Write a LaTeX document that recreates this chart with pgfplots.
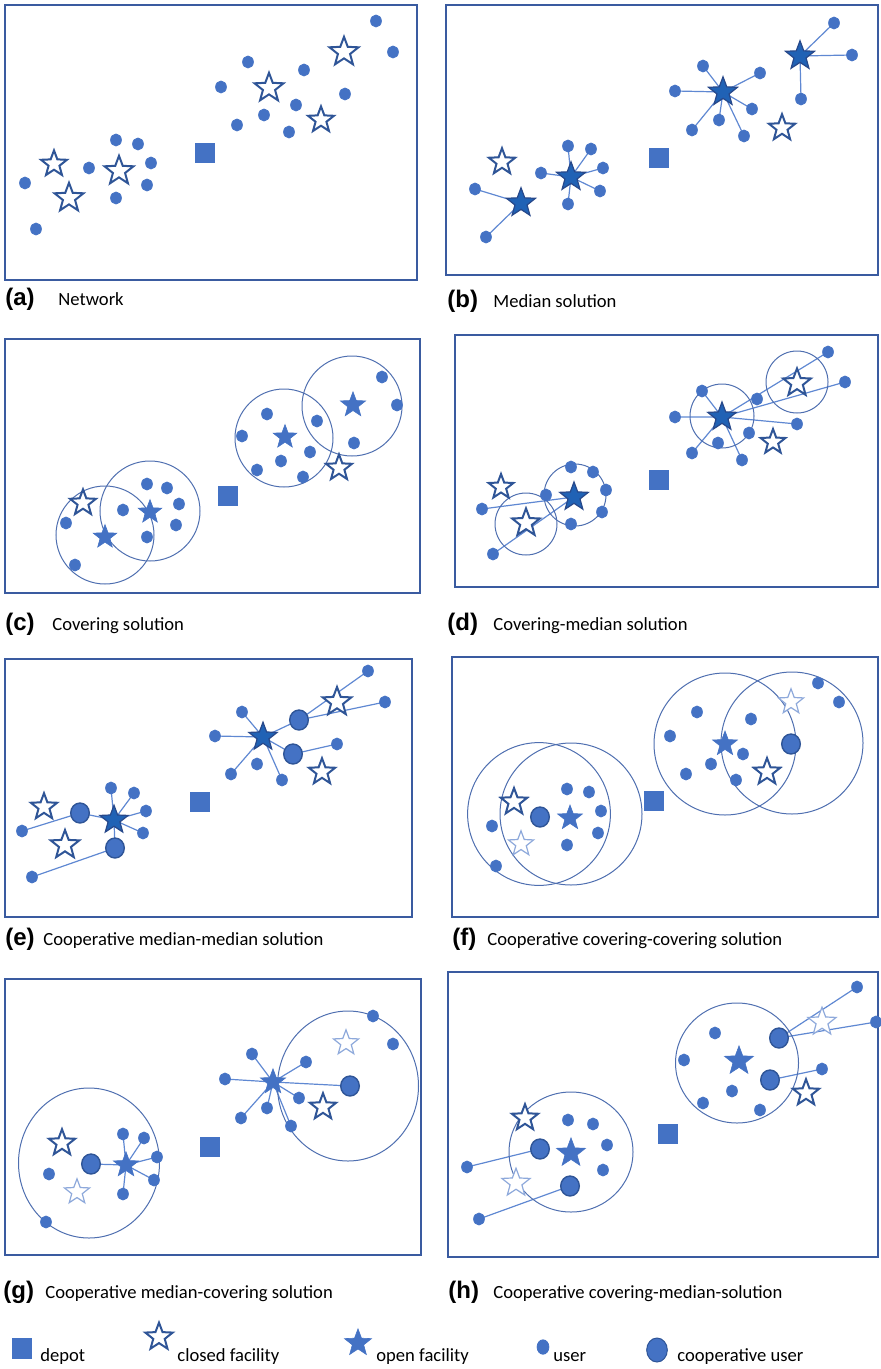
\documentclass[border=0pt]{standalone}
\usepackage{pgfplots}
\pgfplotsset{compat=1.18}
\usepackage{fontspec}
\setmainfont{Carlito}
\newfontfamily\labfont{Liberation Sans}
\definecolor{ublue}{HTML}{4472C4}
\definecolor{frameblue}{HTML}{3A5BA0}
\definecolor{dkstar}{HTML}{2F5597}
\definecolor{opendk}{HTML}{2062B5}
\definecolor{openline}{HTML}{27488A}
\definecolor{lightstar}{HTML}{8EA9DB}
\definecolor{edgeblue}{HTML}{5F88D2}
\definecolor{circblue}{HTML}{4F6FB0}

\pgfdeclareplotmark{fstar}{%
 \pgfpathmoveto{\pgfpointpolar{90}{\pgfplotmarksize}}%
 \pgfpathlineto{\pgfpointpolar{126}{0.42\pgfplotmarksize}}%
 \pgfpathlineto{\pgfpointpolar{162}{\pgfplotmarksize}}%
 \pgfpathlineto{\pgfpointpolar{198}{0.42\pgfplotmarksize}}%
 \pgfpathlineto{\pgfpointpolar{234}{\pgfplotmarksize}}%
 \pgfpathlineto{\pgfpointpolar{270}{0.42\pgfplotmarksize}}%
 \pgfpathlineto{\pgfpointpolar{306}{\pgfplotmarksize}}%
 \pgfpathlineto{\pgfpointpolar{342}{0.42\pgfplotmarksize}}%
 \pgfpathlineto{\pgfpointpolar{18}{\pgfplotmarksize}}%
 \pgfpathlineto{\pgfpointpolar{54}{0.42\pgfplotmarksize}}%
 \pgfpathclose
 \pgfusepathqfillstroke
}

\pgfplotsset{
 panel/.style={scale only axis, xtick=\empty, ytick=\empty, y dir=reverse, clip=false,
   axis line style={frameblue, line width=0.9pt}, anchor=north west},
 user/.style={only marks, mark=*, mark size=3pt, mark options={xscale=0.9, draw=ublue, fill=ublue}},
 coop/.style={only marks, mark=*, mark size=5pt, mark options={xscale=0.93, fill=ublue, draw=dkstar, line width=0.7pt}},
 closed/.style={only marks, mark=fstar, mark size=#1, mark options={fill=white, draw=dkstar, line width=1pt}},
 lightclosed/.style={only marks, mark=fstar, mark size=#1, mark options={fill=white, draw=lightstar, line width=0.6pt}},
 opendark/.style={only marks, mark=fstar, mark size=#1, mark options={fill=opendk, draw=openline, line width=0.6pt}},
 openb/.style={only marks, mark=fstar, mark size=#1, mark options={fill=ublue, draw=ublue, line width=0.3pt}},
 depot/.style={only marks, mark=square*, mark size=4.75pt, mark options={fill=ublue, draw=ublue}},
 edge/.style={edgeblue, line width=0.6pt, mark=none, line join=round},
}
\tikzset{circ/.style={draw=circblue, line width=0.5pt}}
\newcommand{\lab}[1]{{\labfont\bfseries\fontsize{12pt}{14pt}\selectfont #1}}
\newcommand{\capt}[1]{{\fontsize{9.3pt}{11pt}\selectfont #1}}

\begin{document}
\begin{tikzpicture}
\useasboundingbox (0pt,0pt) rectangle (440pt,-684.5pt);

% ---------------- (a) Network
\begin{axis}[panel, at={(2.5pt,-2.5pt)}, width=206pt, height=137.5pt, xmin=5, xmax=417, ymin=5, ymax=280]
\addplot[user] coordinates {(376,21)(393,52)(248,62)(304,70)(221,87)(345,94)(296,105)(264,115)(237,125)(289,132)(116,140)(138,144)(151,163)(89,168)(147,185)(25,183)(116,198)(36,229)};
\addplot[closed=7.6pt] coordinates {(344,52)(269,88)(119,171)(69,198)};
\addplot[closed=6.8pt] coordinates {(321,120)(54,164)};
\addplot[depot] coordinates {(205,153)};
\end{axis}

% ---------------- (b) Median solution
\begin{axis}[panel, at={(223pt,-2.5pt)}, width=216pt, height=135pt, xmin=446, xmax=878, ymin=5, ymax=275]
\addplot[edge] coordinates {(800,56)(834,23)(800,56)(852,55)(800,56)(801,99)};
\addplot[edge] coordinates {(723,92)(703,66)(723,92)(760,73)(723,92)(675,91)(723,92)(752,109)(723,92)(719,120)(723,92)(692,130)(723,92)(744,136)};
\addplot[edge] coordinates {(571,177)(568,146)(571,177)(591,149)(571,177)(603,168)(571,177)(541,173)(571,177)(600,191)(571,177)(568,204)};
\addplot[edge] coordinates {(521,203)(475,189)(521,203)(486,237)};
\addplot[user] coordinates {(834,23)(852,55)(703,66)(760,73)(675,91)(801,99)(752,109)(719,120)(692,130)(744,136)(568,146)(591,149)(603,168)(541,173)(600,191)(475,189)(568,204)(486,237)};
\addplot[opendark=7.6pt] coordinates {(800,56)(723,92)(571,177)(521,203)};
\addplot[closed=6.9pt] coordinates {(782,128)(502,162)};
\addplot[depot] coordinates {(659,158)};
\end{axis}

% ---------------- (c) Covering solution
\begin{axis}[panel, at={(2.5pt,-169.5pt)}, width=207.5pt, height=127pt, xmin=5, xmax=420, ymin=339, ymax=593]
\draw[circ] (axis cs:105,535) circle[radius=24.5pt];
\draw[circ] (axis cs:150,511) circle[radius=25pt];
\draw[circ] (axis cs:284,438) circle[radius=24.5pt];
\draw[circ] (axis cs:352,406) circle[radius=25pt];
\addplot[user] coordinates {(382,377)(397,405)(267,414)(317,421)(242,436)(310,452)(281,461)(354,443)(257,470)(303,477)(147,484)(167,488)(179,504)(123,510)(176,525)(147,537)(66,523)(75,565)};
\addplot[openb=6.6pt] coordinates {(353,405)};
\addplot[openb=6.2pt] coordinates {(285,437)(150,512)(105,537)};
\addplot[closed=6.8pt] coordinates {(339,468)(83,503)};
\addplot[depot] coordinates {(228,496)};
\end{axis}

% ---------------- (d) Covering-median solution
\begin{axis}[panel, at={(227.5pt,-167.5pt)}, width=211.5pt, height=126pt, xmin=455, xmax=878, ymin=335, ymax=587]
\addplot[edge] coordinates {(722,417)(828,352)(722,417)(845,382)(722,417)(797,424)(722,417)(675,417)(722,417)(702,391)(722,417)(692,453)(722,417)(742,460)};
\addplot[edge] coordinates {(574,497)(482,509)(574,497)(493,554)};
\draw[circ] (axis cs:526,524) circle[radius=15.5pt];
\draw[circ] (axis cs:575,495) circle[radius=15.5pt];
\draw[circ] (axis cs:722,416) circle[radius=16pt];
\draw[circ] (axis cs:797,382) circle[radius=15.5pt];
\addplot[user] coordinates {(828,352)(845,382)(702,391)(757,399)(675,417)(797,424)(749,433)(718,443)(692,453)(742,460)(571,467)(593,472)(606,490)(546,495)(602,512)(571,524)(482,509)(493,554)};
\addplot[opendark=7.5pt] coordinates {(722,417)(574,497)};
\addplot[closed=7.3pt] coordinates {(797,383)(526,523)};
\addplot[closed=6.5pt] coordinates {(773,442)(501,487)};
\addplot[depot] coordinates {(659,480)};
\end{axis}

% ---------------- (e) Cooperative median-median solution
\begin{axis}[panel, at={(2.5pt,-329.5pt)}, width=203.5pt, height=129pt, xmin=5, xmax=412, ymin=659, ymax=917]
\addplot[edge] coordinates {(263,737)(242,712)(263,737)(215,736)(263,737)(231,774)(263,737)(282,780)(263,737)(299,720)(263,737)(293,754)};
\addplot[edge] coordinates {(368,671)(299,720)(385,702)};
\addplot[edge] coordinates {(293,754)(337,744)};
\addplot[edge] coordinates {(114,820)(111,788)(114,820)(134,793)(114,820)(146,811)(114,820)(143,833)(114,820)(80,813)(114,820)(115,848)};
\addplot[edge] coordinates {(80,813)(22,831)};
\addplot[edge] coordinates {(115,848)(32,877)};
\addplot[user] coordinates {(368,671)(385,702)(242,712)(215,736)(337,744)(257,764)(231,774)(282,780)(111,788)(134,793)(146,811)(143,833)(22,831)(32,877)};
\addplot[coop] coordinates {(299,720)(293,754)(80,813)(115,848)};
\addplot[opendark=7.4pt] coordinates {(263,737)(114,820)};
\addplot[closed=7.5pt] coordinates {(337,702)(65,845)};
\addplot[closed=6.9pt] coordinates {(322,772)(44,807)};
\addplot[depot] coordinates {(200,802)};
\end{axis}

% ---------------- (f) Cooperative covering-covering solution
\begin{axis}[panel, at={(226pt,-328.5pt)}, width=213pt, height=130pt, xmin=452, xmax=878, ymin=657, ymax=917]
\draw[circ] (axis cs:539,814) circle[radius=35.7pt];
\draw[circ] (axis cs:571,814) circle[radius=35.5pt];
\draw[circ] (axis cs:725,744) circle[radius=35.5pt];
\draw[circ] (axis cs:792,743) circle[radius=35.5pt];
\addplot[user] coordinates {(818,683)(839,702)(697,712)(751,719)(670,736)(743,754)(711,764)(686,774)(736,780)(567,789)(589,792)(601,811)(598,833)(492,826)(567,845)(496,866)};
\addplot[coop] coordinates {(791,744)(540,817)};
\addplot[openb=6.5pt] coordinates {(725,744)(570,818)};
\addplot[closed=7pt] coordinates {(767,772)(514,802)};
\addplot[lightclosed=6.6pt] coordinates {(791,702)(521,844)};
\addplot[depot] coordinates {(654,801)};
\end{axis}

% ---------------- (g) Cooperative median-covering solution
\begin{axis}[panel, at={(2.5pt,-489.5pt)}, width=208pt, height=138pt, xmin=5, xmax=421, ymin=979, ymax=1255]
\addplot[edge] coordinates {(273,1082)(252,1054)(273,1082)(306,1062)(273,1082)(225,1079)(273,1082)(241,1118)(273,1082)(267,1108)(273,1082)(291,1126)(273,1082)(299,1098)(273,1082)(350,1086)};
\addplot[edge] coordinates {(126,1165)(123,1134)(126,1165)(144,1138)(126,1165)(157,1157)(126,1165)(154,1180)(126,1165)(123,1194)(126,1165)(91,1164)};
\draw[circ] (axis cs:89,1163) ellipse[x radius=35.25pt, y radius=37.5pt];
\draw[circ] (axis cs:348,1086) ellipse[x radius=35.25pt, y radius=37.5pt];
\addplot[user] coordinates {(373,1016)(393,1044)(252,1054)(306,1062)(225,1079)(299,1098)(267,1108)(241,1118)(291,1126)(123,1134)(144,1138)(157,1157)(154,1180)(49,1174)(123,1194)(46,1222)};
\addplot[coop] coordinates {(350,1086)(91,1164)};
\addplot[openb=6.6pt] coordinates {(273,1082)(126,1165)};
\addplot[closed=6.9pt] coordinates {(323,1107)(62,1143)};
\addplot[lightclosed=6.6pt] coordinates {(346,1043)(77,1192)};
\addplot[depot] coordinates {(210,1147)};
\end{axis}

% ---------------- (h) Cooperative covering-median-solution
\begin{axis}[panel, at={(224pt,-486pt)}, width=215pt, height=142.5pt, xmin=448, xmax=878, ymin=972, ymax=1257]
\addplot[edge] coordinates {(857,987)(779,1038)(876,1022)};
\addplot[edge] coordinates {(770,1080)(822,1069)};
\addplot[edge] coordinates {(540,1149)(467,1167)};
\addplot[edge] coordinates {(570,1186)(479,1219)};
\draw[circ] (axis cs:571,1152) ellipse[x radius=31pt, y radius=30pt];
\draw[circ] (axis cs:737,1063) ellipse[x radius=30.75pt, y radius=30pt];
\addplot[user] coordinates {(857,987)(876,1022)(715,1033)(684,1060)(822,1069)(732,1091)(703,1103)(760,1110)(568,1120)(593,1124)(607,1145)(603,1170)(467,1167)(479,1219)};
\addplot[coop] coordinates {(779,1038)(770,1080)(540,1149)(570,1186)};
\addplot[openb=7.6pt] coordinates {(739,1061)(571,1153)};
\addplot[closed=6.9pt] coordinates {(806,1093)(525,1118)};
\addplot[lightclosed=7.4pt] coordinates {(822,1022)(516,1183)};
\addplot[depot] coordinates {(668,1134)};
\end{axis}

% ---------------- legend
\begin{axis}[at={(0pt,-660pt)}, anchor=north west, scale only axis, width=440pt, height=24.5pt,
  xmin=0, xmax=880, ymin=1320, ymax=1369, y dir=reverse, axis lines=none, clip=false]
\addplot[depot, mark size=4.6pt, mark options={yscale=1.05, fill=ublue, draw=ublue}] coordinates {(22,1348.5)};
\addplot[closed=7.2pt] coordinates {(159,1337)};
\addplot[openb=7.1pt] coordinates {(358,1343)};
\addplot[only marks, mark=*, mark size=3.6pt, mark options={xscale=0.82, fill=ublue, draw=ublue}] coordinates {(543,1347)};
\addplot[only marks, mark=*, mark size=6pt, mark options={xscale=0.86, fill=ublue, draw=dkstar, line width=0.5pt}] coordinates {(657,1350)};
\node[anchor=base west, inner sep=0pt] at (axis cs:40,1361) {\capt{depot}};
\node[anchor=base west, inner sep=0pt] at (axis cs:177,1361) {\capt{closed facility}};
\node[anchor=base west, inner sep=0pt] at (axis cs:376,1361) {\capt{open facility}};
\node[anchor=base west, inner sep=0pt] at (axis cs:553,1361) {\capt{user}};
\node[anchor=base west, inner sep=0pt] at (axis cs:677,1361) {\capt{cooperative user}};
\end{axis}

% ---------------- captions
\node[anchor=base west, inner sep=0pt] at (2.5pt,-153pt) {\lab{(a)}};
\node[anchor=base west, inner sep=0pt] at (29pt,-153pt) {\capt{Network}};
\node[anchor=base west, inner sep=0pt] at (223.5pt,-153.5pt) {\lab{(b)}};
\node[anchor=base west, inner sep=0pt] at (246.5pt,-153.5pt) {\capt{Median solution}};
\node[anchor=base west, inner sep=0pt] at (2.5pt,-315pt) {\lab{(c)}};
\node[anchor=base west, inner sep=0pt] at (26pt,-315pt) {\capt{Covering solution}};
\node[anchor=base west, inner sep=0pt] at (223.5pt,-315pt) {\lab{(d)}};
\node[anchor=base west, inner sep=0pt] at (246.5pt,-315pt) {\capt{Covering-median solution}};
\node[anchor=base west, inner sep=0pt] at (2.5pt,-472.5pt) {\lab{(e)}};
\node[anchor=base west, inner sep=0pt] at (21.5pt,-472.5pt) {\capt{Cooperative median-median solution}};
\node[anchor=base west, inner sep=0pt] at (226pt,-472.5pt) {\lab{(f)}};
\node[anchor=base west, inner sep=0pt] at (243.5pt,-472.5pt) {\capt{Cooperative covering-covering solution}};
\node[anchor=base west, inner sep=0pt] at (1.5pt,-649pt) {\lab{(g)}};
\node[anchor=base west, inner sep=0pt] at (22.5pt,-649pt) {\capt{Cooperative median-covering solution}};
\node[anchor=base west, inner sep=0pt] at (224pt,-649pt) {\lab{(h)}};
\node[anchor=base west, inner sep=0pt] at (246.5pt,-649pt) {\capt{Cooperative covering-median-solution}};
\end{tikzpicture}
\end{document}
